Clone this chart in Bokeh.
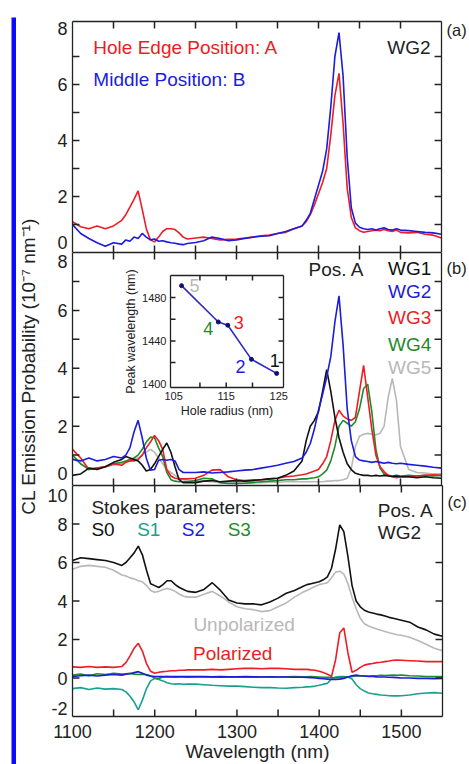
import math
from bokeh.plotting import figure
from bokeh.models import (Range1d, LinearAxis, FixedTicker, Label, GridBox, Spacer,
                          ColumnDataSource, CustomJSTickFormatter)
from bokeh.layouts import column, row
from bokeh.embed import file_html
from bokeh.resources import INLINE
from bokeh.core.properties import value

FONT = "Liberation Sans"
INK = "#222222"
RED = "#ee1c24"
BLUE = "#1c1cdc"
BLACK = "#111111"
GREEN = "#1f8a2a"
GRAY = "#b8b8b8"
TEAL = "#1aa090"
FRAME_BLUE = "#0a0aff"

# ---------------- data ----------------
wavelength = [1100, 1110, 1120, 1130, 1140, 1150, 1160,
              1165, 1170, 1175, 1180, 1185, 1190, 1195, 1200, 1205, 1210, 1215, 1220, 1225, 1230, 1235, 1240,
              1250, 1260, 1270, 1280, 1290, 1300, 1310, 1320, 1330, 1340, 1350, 1360, 1370, 1380,
              1385, 1390, 1395, 1400, 1405, 1410, 1415, 1420, 1425, 1430, 1435, 1440, 1445, 1450,
              1455, 1460, 1465, 1470, 1475, 1480, 1485, 1490, 1495, 1500,
              1510, 1520, 1530, 1540, 1550]

# (a) WG2, two electron-beam positions
a_hole_edge = [1.10, 0.92, 0.85, 0.95, 0.85, 0.95, 1.15,
               1.35, 1.62, 1.90, 2.20, 1.55, 0.85, 0.45, 0.38, 0.55, 0.75, 0.85, 0.85, 0.82, 0.70, 0.55, 0.48,
               0.52, 0.55, 0.50, 0.45, 0.47, 0.48, 0.52, 0.55, 0.60, 0.62, 0.68, 0.72, 0.85, 0.95,
               1.10, 1.35, 1.70, 2.10, 2.50, 3.00, 4.20, 5.60, 6.40, 4.60, 2.30, 1.25, 0.88, 0.78,
               0.72, 0.75, 0.78, 0.80, 0.78, 0.82, 0.78, 0.75, 0.80, 0.72,
               0.70, 0.72, 0.65, 0.62, 0.52]
a_middle = [1.00, 0.68, 0.50, 0.35, 0.22, 0.35, 0.30,
            0.45, 0.40, 0.55, 0.50, 0.68, 0.55, 0.45, 0.48, 0.40, 0.42, 0.38, 0.35, 0.33, 0.30, 0.28, 0.32,
            0.36, 0.42, 0.55, 0.50, 0.42, 0.45, 0.50, 0.55, 0.58, 0.60, 0.68, 0.75, 0.85, 0.95,
            1.15, 1.40, 1.90, 2.40, 2.90, 3.70, 5.20, 7.00, 7.85, 6.30, 3.40, 1.60, 1.05, 0.90,
            0.85, 0.82, 0.85, 0.80, 0.85, 0.88, 0.82, 0.80, 0.85, 0.80,
            0.78, 0.75, 0.72, 0.70, 0.65]

# (b) Pos. A, waveguides WG1..WG5
b_wg1 = [0.30, 0.35, 0.55, 0.50, 0.60, 0.75, 0.85,
         0.95, 0.90, 0.85, 0.80, 0.65, 0.45, 0.50, 0.70, 0.95, 1.20, 1.42, 1.10, 0.60, 0.15, 0.05, 0.05,
         0.05, 0.10, 0.12, 0.08, 0.10, 0.12, 0.10, 0.12, 0.15, 0.18, 0.20, 0.30, 0.45, 0.80,
         1.50, 2.00, 2.20, 2.50, 3.20, 3.95, 3.20, 2.30, 1.60, 1.10, 0.70, 0.50, 0.37, 0.33,
         0.30, 0.30, 0.28, 0.30, 0.28, 0.30, 0.28, 0.26, 0.28, 0.25,
         0.25, 0.22, 0.25, 0.22, 0.20]
b_wg2 = [0.85, 0.80, 0.90, 0.80, 0.85, 0.95, 0.90,
         1.00, 1.25, 1.80, 2.20, 1.60, 0.90, 0.48, 0.50, 0.82, 0.85, 0.82, 0.85, 0.80, 0.50, 0.40, 0.40,
         0.40, 0.42, 0.38, 0.40, 0.42, 0.45, 0.48, 0.50, 0.55, 0.60, 0.65, 0.72, 0.78, 0.90,
         1.10, 1.40, 1.90, 2.55, 3.10, 3.70, 4.40, 5.60, 6.50, 4.80, 2.60, 1.50, 0.95, 0.83,
         0.80, 0.78, 0.75, 0.78, 0.75, 0.72, 0.75, 0.72, 0.70, 0.72,
         0.68, 0.65, 0.62, 0.58, 0.55]
b_wg3 = [1.20, 0.90, 0.50, 0.55, 0.60, 0.70, 0.65,
         0.75, 0.80, 0.80, 0.85, 1.00, 1.25, 1.45, 1.68, 1.50, 1.20, 0.50, 0.28, 0.20, 0.18, 0.18, 0.18,
         0.20, 0.30, 0.48, 0.50, 0.25, 0.15, 0.12, 0.15, 0.15, 0.18, 0.20, 0.25, 0.28, 0.32,
         0.35, 0.40, 0.45, 0.50, 0.70, 0.95, 1.50, 2.20, 2.55, 2.35, 2.25, 2.20, 2.30, 3.20,
         4.10, 3.00, 1.90, 1.00, 0.60, 0.43, 0.30, 0.25, 0.22, 0.25,
         0.25, 0.28, 0.30, 0.32, 0.30]
b_wg4 = [1.00, 0.70, 0.50, 0.55, 0.60, 0.70, 0.75,
         0.80, 0.85, 0.90, 1.00, 1.20, 1.45, 1.62, 1.60, 1.25, 0.95, 0.40, 0.15, 0.10, 0.08, 0.08, 0.08,
         0.12, 0.20, 0.18, 0.05, 0.02, 0.02, 0.03, 0.05, 0.08, 0.10, 0.12, 0.15, 0.15, 0.18,
         0.18, 0.20, 0.22, 0.25, 0.35, 0.48, 0.80, 1.30, 2.00, 2.20, 2.10, 2.00, 2.15, 2.60,
         3.30, 3.45, 2.50, 1.20, 0.55, 0.35, 0.30, 0.28, 0.30, 0.28,
         0.30, 0.28, 0.30, 0.28, 0.30]
b_wg5 = [0.90, 0.70, 0.55, 0.55, 0.60, 0.65, 0.70,
         0.75, 0.80, 0.85, 0.90, 1.00, 1.10, 1.20, 1.10, 0.90, 0.70, 0.50, 0.40, 0.30, 0.20, 0.15, 0.12,
         0.10, 0.10, 0.08, 0.05, 0.05, 0.05, 0.05, 0.05, 0.05, 0.06, 0.06, 0.08, 0.08, 0.08,
         0.08, 0.08, 0.08, 0.08, 0.08, 0.10, 0.10, 0.12, 0.12, 0.15, 0.20, 0.55, 1.30, 1.65,
         1.72, 1.75, 1.72, 1.70, 1.75, 2.00, 3.00, 3.65, 2.90, 1.30,
         0.50, 0.40, 0.38, 0.35, 0.35]

# (c) Pos. A, WG2, Stokes parameters
c_s0 = [6.10, 6.25, 6.20, 6.15, 6.10, 6.00, 5.85,
        6.00, 6.25, 6.50, 6.85, 6.40, 5.60, 4.90, 4.80, 4.70, 4.85, 5.05, 5.05, 4.85, 4.70, 4.60, 4.50,
        4.45, 4.60, 4.95, 4.55, 4.05, 3.90, 3.85, 3.85, 3.80, 3.95, 4.15, 4.40, 4.55, 4.75,
        4.85, 4.90, 4.95, 5.00, 5.10, 5.25, 5.70, 6.70, 7.95, 7.60, 6.30, 4.80, 4.00, 3.70,
        3.52, 3.43, 3.38, 3.32, 3.28, 3.22, 3.15, 3.10, 3.05, 3.00,
        2.90, 2.65, 2.50, 2.28, 2.17]
c_unpolarized = [5.65, 5.80, 5.85, 5.80, 5.75, 5.60, 5.35,
                 5.30, 5.20, 5.15, 5.05, 5.00, 4.80, 4.55, 4.45, 4.50, 4.60, 4.65, 4.60, 4.50, 4.35, 4.25, 4.20,
                 4.20, 4.35, 4.50, 4.25, 3.95, 3.70, 3.60, 3.55, 3.45, 3.50, 3.70, 3.90, 4.20, 4.45,
                 4.55, 4.65, 4.75, 4.85, 4.90, 4.95, 5.20, 5.50, 5.55, 5.40, 4.90, 4.20, 3.60, 3.10,
                 2.82, 2.70, 2.62, 2.55, 2.48, 2.42, 2.35, 2.30, 2.25, 2.22,
                 2.12, 1.95, 1.75, 1.55, 1.42]
c_polarized = [0.58, 0.55, 0.60, 0.55, 0.58, 0.55, 0.60,
               0.80, 1.15, 1.55, 1.80, 1.40, 0.75, 0.35, 0.25, 0.30, 0.33, 0.35, 0.38, 0.38, 0.40, 0.40, 0.42,
               0.42, 0.42, 0.45, 0.42, 0.45, 0.48, 0.50, 0.50, 0.48, 0.50, 0.50, 0.48, 0.45, 0.45,
               0.45, 0.42, 0.40, 0.35, 0.28, 0.20, 0.08, 0.95, 2.35, 2.60, 1.30, 0.30, 0.40, 0.55,
               0.67, 0.72, 0.75, 0.80, 0.82, 0.85, 0.88, 0.92, 0.93, 0.92,
               0.90, 0.88, 0.85, 0.85, 0.85]
c_s1 = [-0.55, -0.50, -0.60, -0.52, -0.58, -0.55, -0.60,
        -0.72, -0.95, -1.25, -1.65, -1.15, -0.55, -0.15, -0.02, -0.08, -0.15, -0.25, -0.30, -0.32, -0.30, -0.33, -0.32,
        -0.32, -0.35, -0.38, -0.40, -0.42, -0.42, -0.45, -0.48, -0.50, -0.50, -0.52, -0.53, -0.50, -0.48,
        -0.46, -0.45, -0.42, -0.38, -0.32, -0.28, -0.05, 0.05, 0.08, 0.08, 0.05, -0.05, -0.35, -0.55,
        -0.68, -0.78, -0.82, -0.85, -0.88, -0.90, -0.92, -0.93, -0.93, -0.92,
        -0.88, -0.82, -0.78, -0.76, -0.79]
c_s2 = [0.08, 0.12, 0.15, 0.10, 0.15, 0.18, 0.15,
        0.20, 0.22, 0.28, 0.33, 0.25, 0.15, 0.10, 0.08, 0.08, 0.07, 0.08, 0.07, 0.07, 0.08, 0.07, 0.07,
        0.07, 0.07, 0.06, 0.07, 0.06, 0.06, 0.07, 0.06, 0.05, 0.06, 0.05, 0.05, 0.04, 0.04,
        0.03, 0.02, 0.00, -0.02, -0.04, -0.06, -0.08, -0.08, -0.06, -0.02, 0.05, 0.12, 0.15, 0.12,
        0.10, 0.08, 0.08, 0.06, 0.05, 0.05, 0.04, 0.03, 0.02, 0.00,
        0.00, -0.02, -0.02, -0.03, -0.02]
c_s3 = [0.15, 0.20, 0.12, 0.22, 0.18, 0.25, 0.20,
        0.22, 0.25, 0.20, 0.18, 0.20, 0.18, 0.10, 0.00, -0.02, 0.05, 0.07, 0.05, 0.04, 0.06, 0.05, 0.04,
        0.05, 0.06, 0.05, 0.04, 0.05, 0.06, 0.05, 0.06, 0.05, 0.06, 0.05, 0.06, 0.07, 0.06,
        0.06, 0.07, 0.06, 0.05, 0.04, 0.03, 0.02, 0.00, 0.02, 0.05, 0.06, 0.08, 0.10, 0.12,
        0.10, 0.10, 0.12, 0.12, 0.14, 0.13, 0.14, 0.15, 0.14, 0.15,
        0.12, 0.10, 0.08, 0.07, 0.07]

# inset: peak wavelength vs hole radius
hole_radius = [124.6, 119.8, 115.3, 113.5, 106.5]
peak_wavelength = [1410, 1423, 1454.5, 1457.5, 1491]
wg_numbers = ["1", "2", "3", "4", "5"]
wg_colors = [BLACK, BLUE, RED, GREEN, GRAY]
num_dx = [-2, -11, 11, -10, 13]
num_dy = [-13, 7, -3, 7, 0]

# tick marks and tick labels
x_tick_marks = [1150, 1200, 1250, 1300, 1350, 1400, 1450, 1500]
x_tick_labels = [1100, 1200, 1300, 1400, 1500]
a_tick_marks = [1, 2, 3, 4, 5, 6, 7]
b_tick_marks = [1, 2, 3, 4, 5, 6, 7]
c_tick_marks = [0, 2, 4, 6, 8]
# label anchors (edge labels nudged inward, as in the original)
a_label_pos, a_label_txt = [0.35, 2, 4, 6, 8], ["0", "2", "4", "6", "8"]
b_label_pos, b_label_txt = [0.35, 2, 4, 6, 7.7], ["0", "2", "4", "6", "8"]
c_label_pos, c_label_txt = [-1.6, 0, 2, 4, 6, 8, 9.5], ["-2", "0", "2", "4", "6", "8", "10"]
inset_x_ticks = [110, 115, 120]
inset_y_ticks = [1420, 1440, 1460, 1480]


def fmt(pos, txt):
    return CustomJSTickFormatter(args=dict(pos=pos, txt=txt), code="""
        for (let i = 0; i < pos.length; i++) { if (Math.abs(pos[i] - tick) < 1e-6) return txt[i]; }
        return "";""")


def label_axis(pos, txt, size="18px", standoff=5, rule=True):
    ax = LinearAxis(ticker=FixedTicker(ticks=pos, minor_ticks=[]), formatter=fmt(pos, txt))
    ax.axis_line_color = INK if rule else None
    ax.axis_line_width = 1.3
    ax.major_tick_in = 0
    ax.major_tick_out = 0
    ax.minor_tick_in = 0
    ax.minor_tick_out = 0
    ax.major_label_text_font = FONT
    ax.major_label_text_font_size = size
    ax.major_label_text_color = INK
    ax.major_label_standoff = standoff
    return ax


def rule_axis():
    ax = LinearAxis(ticker=FixedTicker(ticks=[], minor_ticks=[]))
    ax.axis_line_color = INK
    ax.axis_line_width = 1.3
    ax.major_tick_in = 0
    ax.major_tick_out = 0
    ax.minor_tick_in = 0
    ax.minor_tick_out = 0
    ax.major_label_standoff = 0
    return ax


def no_align(f):
    try:
        f.frame_align = False
    except Exception:
        pass


def inward_ticks(p, xs, ys, xr, yr, fw, fh, length=7):
    """Inward tick marks, each a short line on the figure's own scales."""
    (x0, x1), (y0, y1) = xr, yr
    dx = length * (x1 - x0) / fw
    dy = length * (y1 - y0) / fh
    kw = dict(line_color=INK, line_width=1.5)
    for x in xs:
        p.line([x, x], [y0, y0 + dy], **kw)
        p.line([x, x], [y1, y1 - dy], **kw)
    for y in ys:
        p.line([x0, x0 + dx], [y, y], **kw)
        p.line([x1, x1 - dx], [y, y], **kw)


def make_panel(height, yr, top, bottom, lpos, ltxt, tag, tag_y, below=True):
    p = figure(width=429, height=height, x_range=Range1d(1100, 1550), y_range=Range1d(*yr),
               x_axis_type=None, y_axis_type=None, output_backend="svg", toolbar_location=None,
               min_border_left=32, min_border_right=25, min_border_top=top, min_border_bottom=bottom)
    no_align(p)
    p.border_fill_color = "white"
    p.outline_line_color = None
    p.add_layout(label_axis(lpos, ltxt), "left")
    p.add_layout(label_axis([tag_y], [tag], size="16.5px", standoff=5), "right")
    p.add_layout(rule_axis(), "above")
    if below:
        p.add_layout(rule_axis(), "below")
    return p


def txt(p, x, y, text, color=INK, align="left", size="19px"):
    p.add_layout(Label(x=x, y=y, text=text, text_color=color, text_align=align,
                       text_baseline="middle", text_font=FONT, text_font_size=size))


# ---------------- panel (a) ----------------
A_Y = (0, 8.25)
pa = make_panel(235, A_Y, 4, 0, a_label_pos, a_label_txt, "(a)", 7.93)
pa.line(wavelength, a_hole_edge, line_color=RED, line_width=1.6)
pa.line(wavelength, a_middle, line_color=BLUE, line_width=1.6)
inward_ticks(pa, x_tick_marks, a_tick_marks, (1100, 1550), A_Y, 372, 231)
txt(pa, 1125.4, 7.32, "Hole Edge Position: A", RED)
txt(pa, 1125.4, 6.18, "Middle Position: B", BLUE)
txt(pa, 1536.7, 7.32, "WG2", INK, align="right")

# ---------------- panel (b) ----------------
B_Y = (-0.05, 8.0)
pb = make_panel(233, B_Y, 0, 0, b_label_pos, b_label_txt, "(b)", 7.47)
for ys, col in [(b_wg5, GRAY), (b_wg4, GREEN), (b_wg3, RED), (b_wg1, BLACK), (b_wg2, BLUE)]:
    pb.line(wavelength, ys, line_color=col, line_width=1.6)
inward_ticks(pb, x_tick_marks, b_tick_marks, (1100, 1550), B_Y, 372, 233)
txt(pb, 1387.9, 7.40, "Pos. A", INK)
for lab, yy, col in [("WG1", 7.44, BLACK), ("WG2", 6.64, BLUE), ("WG3", 5.74, RED),
                     ("WG4", 4.81, GREEN), ("WG5", 4.01, GRAY)]:
    txt(pb, 1484.7, yy, lab, col)

# inset overlaid on panel (b)
INS_X, INS_Y = (104.4, 125.9), (1397, 1500.4)
ins = figure(width=429, height=233, x_range=Range1d(*INS_X), y_range=Range1d(*INS_Y),
             x_axis_type=None, y_axis_type=None, output_backend="svg", toolbar_location=None,
             min_border_left=130, min_border_right=186, min_border_top=23, min_border_bottom=98)
no_align(ins)
ins.border_fill_color = None
ins.background_fill_color = "white"
ins.outline_line_color = None
for loc, pos, lab in [("left", [1400, 1440, 1480], "Peak wavelength (nm)"),
                      ("below", [105, 115, 125], "Hole radius (nm)")]:
    ax = label_axis(pos, [str(v) for v in pos], size="11px", standoff=4)
    ax.axis_label = lab
    ax.axis_label_text_font = FONT
    ax.axis_label_text_font_size = "12.5px"
    ax.axis_label_text_font_style = "normal"
    ax.axis_label_text_color = INK
    ax.axis_label_standoff = 1
    ins.add_layout(ax, loc)
ins.add_layout(rule_axis(), "above")
ins.add_layout(rule_axis(), "right")
ins.line(hole_radius, peak_wavelength, line_color="#2a2ad0", line_width=1.6)
ins.scatter(hole_radius, peak_wavelength, size=4, color="#101070")
inward_ticks(ins, inset_x_ticks, inset_y_ticks, INS_X, INS_Y, 113, 112, length=5)
src = ColumnDataSource(dict(x=hole_radius, y=peak_wavelength, t=wg_numbers, c=wg_colors,
                            dx=num_dx, dy=num_dy))
ins.text("x", "y", text="t", text_color="c", x_offset="dx", y_offset="dy", source=src,
         text_align="center", text_baseline="middle", text_font=value(FONT), text_font_size="18px")

b_stack = GridBox(children=[(pb, 0, 0), (ins, 0, 0)])

# ---------------- panel (c) ----------------
C_Y = (-2, 10)
pc = make_panel(279, C_Y, 0, 47, c_label_pos, c_label_txt, "(c)", 9.12, below=False)
xb = label_axis(x_tick_labels, [str(v) for v in x_tick_labels], standoff=8)
xb.axis_label = "Wavelength (nm)"
xb.axis_label_text_font = FONT
xb.axis_label_text_font_size = "19px"
xb.axis_label_text_font_style = "normal"
xb.axis_label_text_color = INK
xb.axis_label_standoff = 0
pc.add_layout(xb, "below")
for ys, col in [(c_unpolarized, GRAY), (c_s0, BLACK), (c_polarized, RED), (c_s1, TEAL),
                (c_s3, GREEN), (c_s2, BLUE)]:
    pc.line(wavelength, ys, line_color=col, line_width=1.6)
inward_ticks(pc, x_tick_marks, c_tick_marks, (1100, 1550), C_Y, 372, 232)
txt(pc, 1123, 8.86, "Stokes parameters:", INK)
for lab, xx, col in [("S0", 1123, BLACK), ("S1", 1178.6, TEAL), ("S2", 1233, BLUE), ("S3", 1288.7, GREEN)]:
    txt(pc, xx, 7.72, lab, col)
txt(pc, 1471.4, 8.71, "Pos. A", INK)
txt(pc, 1471.4, 7.57, "WG2", INK)
txt(pc, 1308.7, 2.76, "Unpolarized", GRAY, align="center")
txt(pc, 1294.8, 1.26, "Polarized", RED, align="center")

# ---------------- shared y label and frame ----------------
lf = figure(width=24, height=747, x_range=Range1d(0, 1), y_range=Range1d(0, 1),
            x_axis_type=None, y_axis_type=None, output_backend="svg", toolbar_location=None,
            min_border=0)
no_align(lf)
lf.outline_line_color = None
lf.add_layout(Label(x=0.5, y=0.533, text="CL Emission Probability (10\u207b\u2077 nm\u207b\u00b9)",
                    angle=math.pi / 2, text_align="center", text_baseline="middle",
                    text_font=FONT, text_font_size="19px", text_color=INK))


def bar(w, h):
    f = figure(width=w, height=h, x_axis_type=None, y_axis_type=None, output_backend="svg",
               toolbar_location=None, min_border=0)
    no_align(f)
    f.outline_line_color = None
    f.background_fill_color = FRAME_BLUE
    f.border_fill_color = FRAME_BLUE
    return f


top = row(Spacer(width=11, height=5), bar(458, 5))
main = row(Spacer(width=11, height=747), bar(5, 747), lf, column(pa, b_stack, pc))
layout = column(Spacer(width=469, height=12), top, main)

open("out.html", "w").write(file_html(layout, INLINE))
